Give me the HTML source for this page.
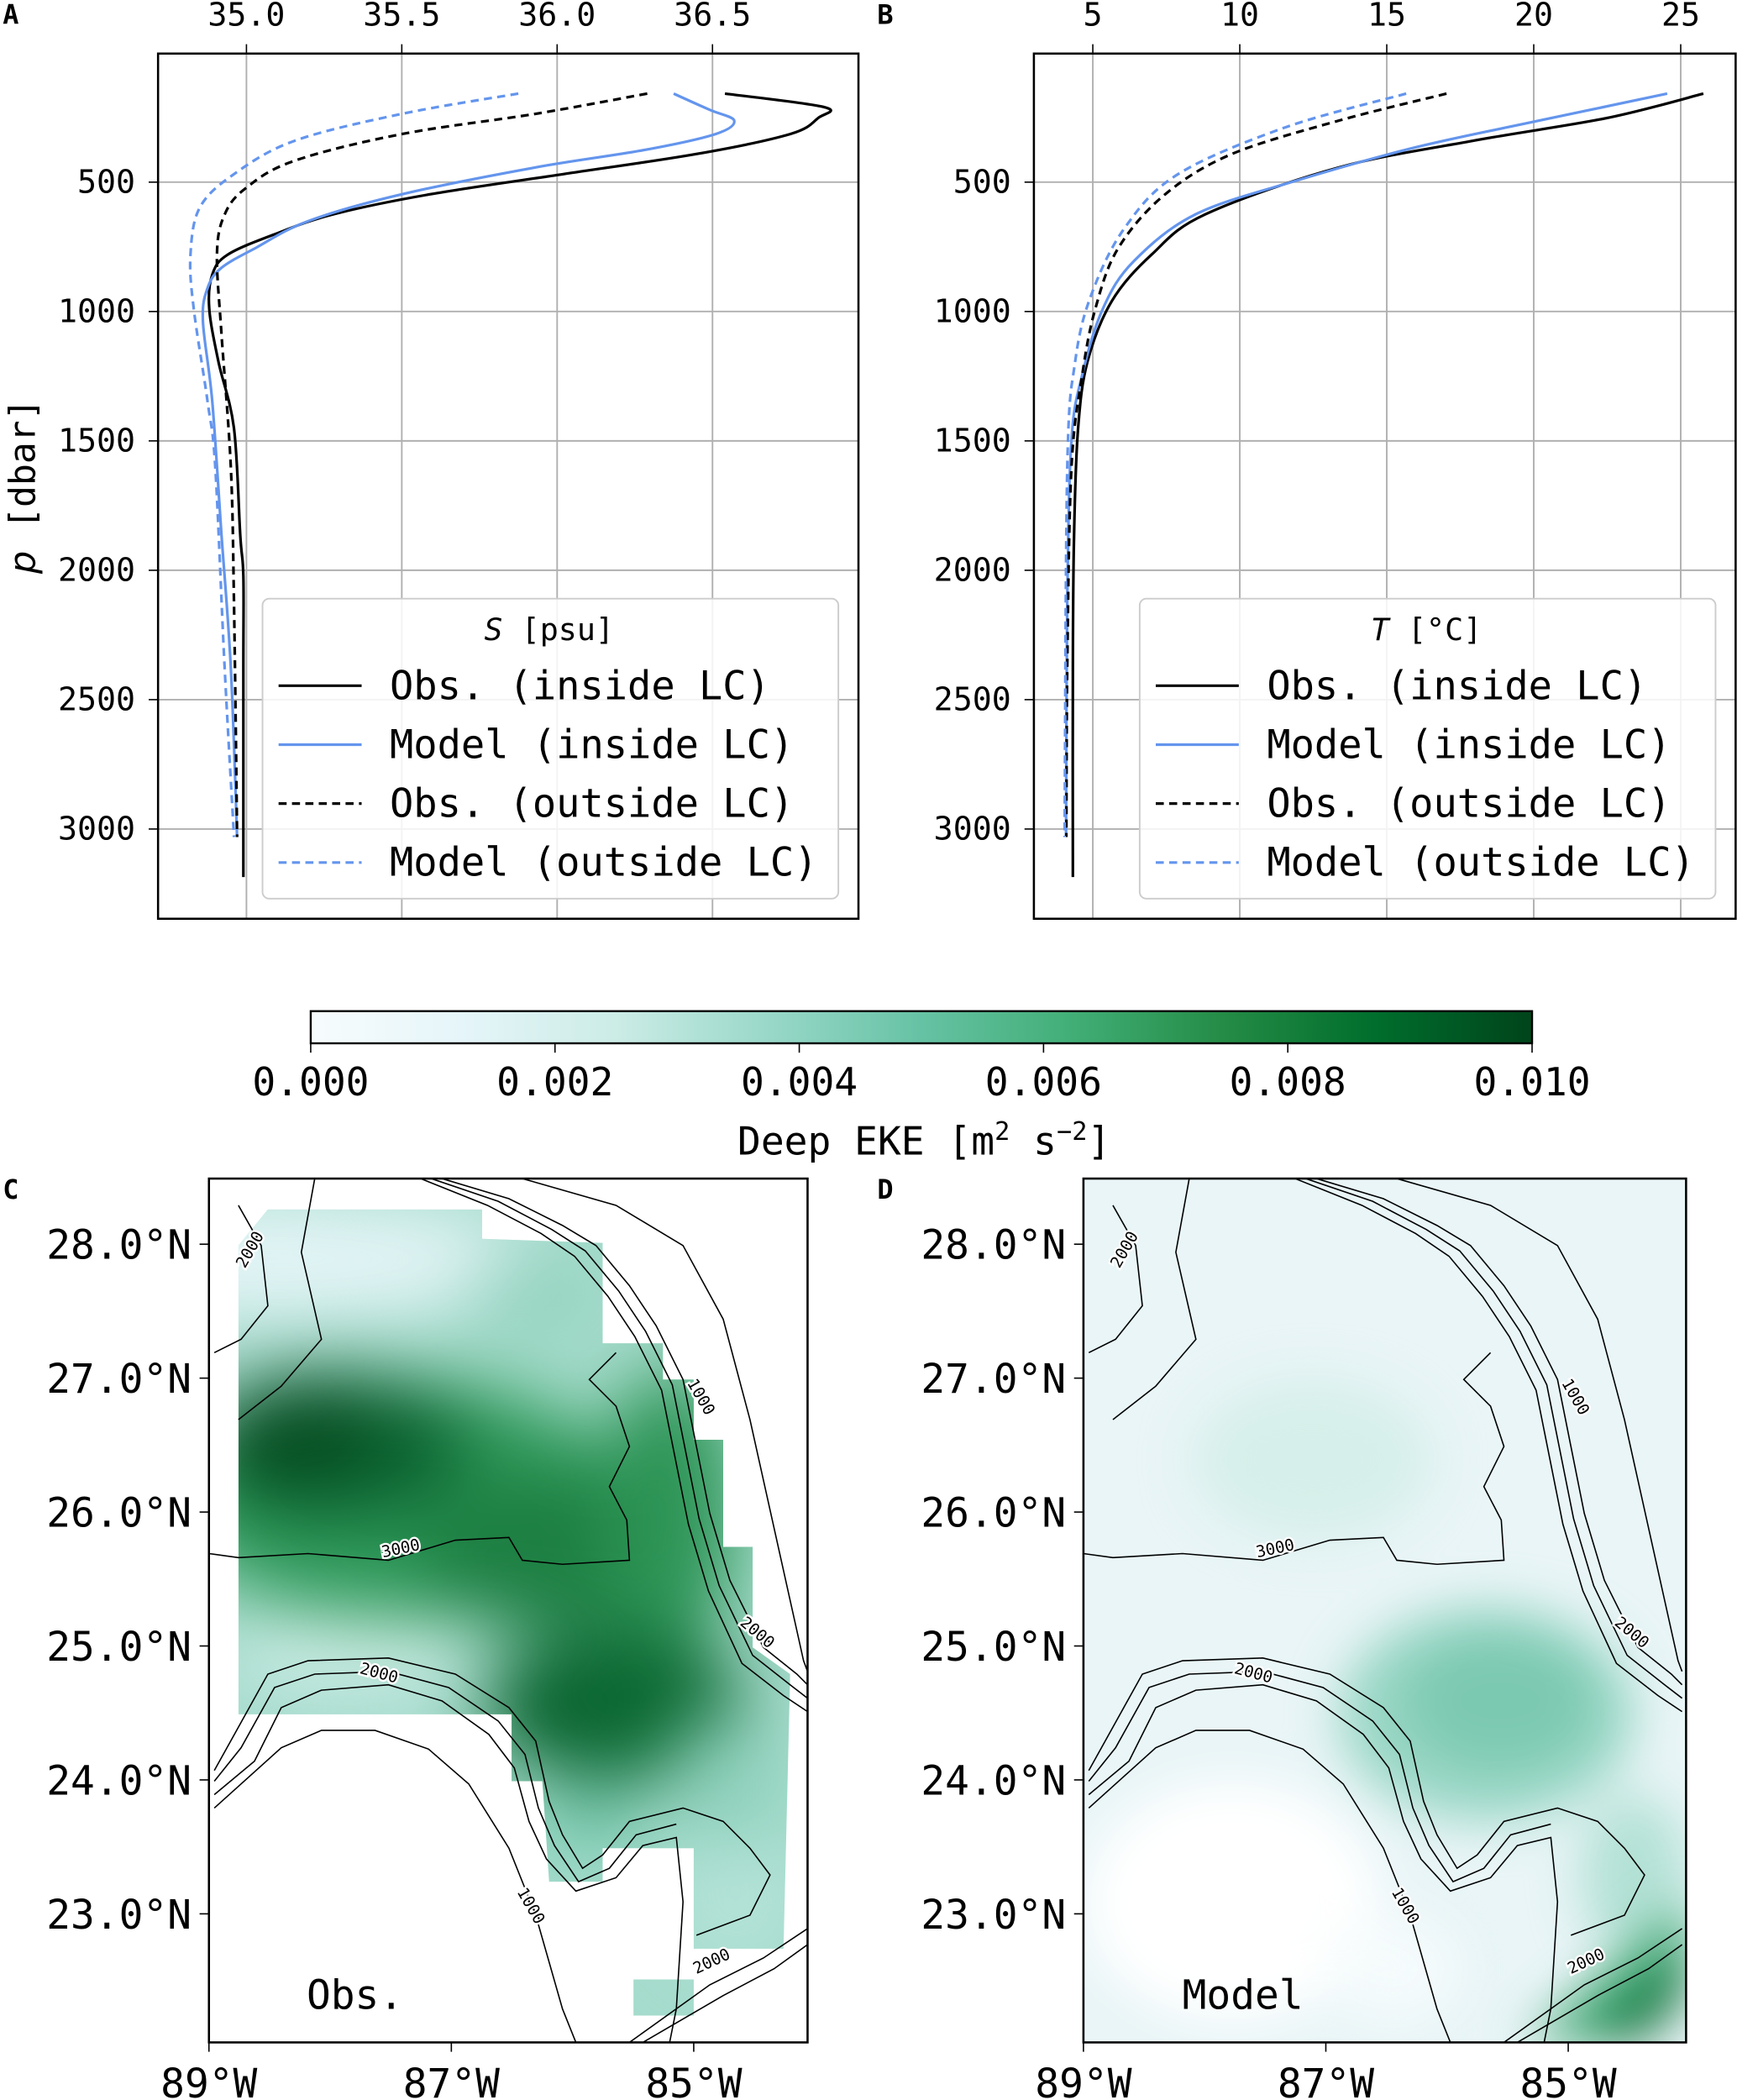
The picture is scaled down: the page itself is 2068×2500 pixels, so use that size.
<!DOCTYPE html>
<html><head><meta charset="utf-8"><style>
html,body{margin:0;padding:0;background:#fff}
svg{display:block}
.t{font-family:"DejaVu Sans Mono","Liberation Mono",monospace;fill:#000}
</style></head><body>
<svg id="fig" xmlns="http://www.w3.org/2000/svg" width="2068" height="2500" viewBox="0 0 1297 1568">
<defs>
<linearGradient id="bugn" x1="0" x2="1" y1="0" y2="0">
<stop offset="0" stop-color="#f7fcfd"/><stop offset="0.125" stop-color="#e5f5f9"/><stop offset="0.25" stop-color="#ccece6"/><stop offset="0.375" stop-color="#99d8c9"/><stop offset="0.5" stop-color="#66c2a4"/><stop offset="0.625" stop-color="#41ae76"/><stop offset="0.75" stop-color="#238b45"/><stop offset="0.875" stop-color="#006d2c"/><stop offset="1" stop-color="#00441b"/>
</linearGradient>
<filter id="blur" x="-100%" y="-100%" width="300%" height="300%" color-interpolation-filters="sRGB"><feGaussianBlur stdDeviation="26"/></filter>
<filter id="blur2" x="-100%" y="-100%" width="300%" height="300%" color-interpolation-filters="sRGB"><feGaussianBlur stdDeviation="18"/></filter>
<clipPath id="clipC"><polygon points="178,930 200,903 360,903 360,925 450,928 450,1003 495,1003 495,1030 518,1030 518,1075 540,1075 540,1155 562,1155 562,1230 590,1250 585,1455 518,1455 518,1380 450,1380 450,1405 410,1405 405,1330 382,1330 382,1280 178,1280"/><rect x="473" y="1478" width="45" height="27"/></clipPath>
<clipPath id="boxC"><rect x="156" y="880" width="447" height="645"/></clipPath>
<clipPath id="boxD"><rect x="809" y="880" width="450" height="645"/></clipPath>
</defs>
<g id="root"></g>
</svg>
<script>
// ---- profile data (pressure in dbar, salinity psu, temperature degC)
const pObsIn=[158,210,252,314,391,469,547,624,702,780,857,987,1194,1452,1866,2022,2384,3186];
const sObsIn=[36.54,36.86,36.84,36.75,36.45,36.02,35.59,35.28,35.09,34.94,34.89,34.88,34.91,34.96,34.98,34.99,34.99,34.99];
const pModIn=[158,220,262,314,376,443,547,650,754,831,909,1038,1349,1866,2384,3031];
const sModIn=[36.375,36.49,36.57,36.51,36.28,35.93,35.5,35.2,35.03,34.92,34.875,34.86,34.89,34.92,34.95,34.97];
const pObsOut=[158,236,314,417,521,624,780,1090,1608,2125,3031];
const sObsOut=[36.29,35.93,35.5,35.155,35.0,34.93,34.905,34.92,34.95,34.96,34.97];
const pModOut=[158,236,340,469,598,780,987,1349,1608,2384,3031];
const sModOut=[35.875,35.5,35.155,34.96,34.85,34.82,34.83,34.875,34.9,34.93,34.96];
const tpObsIn=[158,252,340,443,624,780,961,1194,1452,1866,2384,3186];
const tObsIn=[25.77,22.5,17.94,13.38,8.83,7.0,5.64,4.82,4.5,4.36,4.32,4.32];
const tpModIn=[158,262,365,495,624,805,987,1245,1504,2125,3031];
const tModIn=[24.54,20.2,16.0,11.9,8.5,6.4,5.35,4.64,4.27,4.13,4.09];
const tpObsOut=[158,262,391,547,754,987,1245,1608,2384,3031];
const tObsOut=[17.03,13.38,9.74,7.46,5.87,5.09,4.64,4.27,4.13,4.1];
const tpModOut=[158,288,469,676,935,1194,1608,3031];
const tModOut=[15.66,11.56,7.9,6.09,4.95,4.4,4.13,4.04];
const sTicks=[35.0,35.5,36.0,36.5];
const tTicks=[5,10,15,20,25];
const pTicks=[500,1000,1500,2000,2500,3000];
const cbTicks=[0,0.002,0.004,0.006,0.008,0.010];
const latTicks=[28,27,26,25,24,23];
const lonTicks=[89,87,85];

const NS="http://www.w3.org/2000/svg";
const root=document.getElementById('root');
function el(tag,attrs,parent){const e=document.createElementNS(NS,tag);for(const k in attrs)e.setAttribute(k,attrs[k]);(parent||root).appendChild(e);return e;}
function txt(x,y,s,size,anchor,parent,extra){const e=el('text',Object.assign({x:x,y:y,'font-size':size,'text-anchor':anchor||'middle',class:'t'},extra||{}),parent);e.textContent=s;return e;}
function smooth(pts){let d='M'+pts[0][0].toFixed(1)+','+pts[0][1].toFixed(1);
  for(let i=0;i<pts.length-1;i++){const p0=pts[Math.max(0,i-1)],p1=pts[i],p2=pts[i+1],p3=pts[Math.min(pts.length-1,i+2)];
    const c1=[p1[0]+(p2[0]-p0[0])/6,p1[1]+(p2[1]-p0[1])/6],c2=[p2[0]-(p3[0]-p1[0])/6,p2[1]-(p3[1]-p1[1])/6];
    d+='C'+c1[0].toFixed(1)+','+c1[1].toFixed(1)+' '+c2[0].toFixed(1)+','+c2[1].toFixed(1)+' '+p2[0].toFixed(1)+','+p2[1].toFixed(1);}
  return d;}

const yP=p=>136+(p-500)*96.6/500;
const xS=s=>184+(s-35)*232;
const xT=t=>816+(t-5)*21.95;

function panel(name,x0,x1,xf,ticks,fmt,series,legTitle,letter,lx){
  const g=el('g',{});
  
  
  ticks.forEach(v=>{const x=xf(v);
    const l=el('line',{x1:x,x2:x,y1:40,y2:686,stroke:'#b0b0b0','stroke-width':1.2},g);
    
    el('line',{x1:x,x2:x,y1:40,y2:33,stroke:'#000','stroke-width':1},g);
    const t=txt(x,19,fmt(v),24,'middle',g);
    });
  pTicks.forEach(v=>{const y=yP(v);
    el('line',{x1:x0,x2:x1,y1:y,y2:y,stroke:'#b0b0b0','stroke-width':1.2},g);
    el('line',{x1:x0,x2:x0-7,y1:y,y2:y,stroke:'#000','stroke-width':1},g);
    const t=txt(x0-17,y+8,String(v),24,'end',g);
    });
  series.forEach(s=>{
    const d=smooth(s.p.map((p,i)=>[xf(s.v[i]),yP(p)]));
    const path=el('path',{d:d,fill:'none',stroke:s.c,'stroke-width':2,'stroke-dasharray':s.dash?'6,4':'none'},g);
    
    
  });
  const box=el('rect',{x:x0,y:40,width:x1-x0,height:646,fill:'none',stroke:'#000','stroke-width':1.6},g);
  
  const lg=el('g',{},g);
  
  
  el('rect',{x:lx,y:447,width:430,height:224,rx:5,fill:'#fff','fill-opacity':0.85,stroke:'#ccc','stroke-width':1.2},lg);
  const tt=txt(lx+214,478,'',23,'middle',lg,{'font-family':'DejaVu Sans'});
  tt.innerHTML='<tspan font-style="italic">'+legTitle[0]+'</tspan> '+legTitle[1];
  
  const labs=['Obs. (inside LC)','Model (inside LC)','Obs. (outside LC)','Model (outside LC)'];
  labs.forEach((lab,i)=>{const y=512+i*44;const s=series[i];
    el('line',{x1:lx+12,x2:lx+74,y1:y,y2:y,stroke:s.c,'stroke-width':2,'stroke-dasharray':s.dash?'6,4':'none'},lg);
    const t=txt(lx+95,y+10,lab,29.5,'start',lg,{'xml:space':'preserve'});
    });
  const L=txt(0,18,letter,20,'start',g,{'font-family':'Liberation Sans','font-weight':'bold'});
  L.setAttribute('x',letter=='A'?2:655);
  
}
const blue='#6495ed';
panel('salinity-panel',118,641,xS,sTicks,v=>v.toFixed(1),[
 {p:pObsIn,v:sObsIn,c:'#000',dash:false,n:'obs-inside-line'},
 {p:pModIn,v:sModIn,c:blue,dash:false,n:'model-inside-line'},
 {p:pObsOut,v:sObsOut,c:'#000',dash:true,n:'obs-outside-line'},
 {p:pModOut,v:sModOut,c:blue,dash:true,n:'model-outside-line'}],['S','[psu]'],'A',196);
panel('temperature-panel',772,1296,xT,tTicks,v=>String(v),[
 {p:tpObsIn,v:tObsIn,c:'#000',dash:false,n:'obs-inside-line'},
 {p:tpModIn,v:tModIn,c:blue,dash:false,n:'model-inside-line'},
 {p:tpObsOut,v:tObsOut,c:'#000',dash:true,n:'obs-outside-line'},
 {p:tpModOut,v:tModOut,c:blue,dash:true,n:'model-outside-line'}],['T','[°C]'],'B',851);
const yt=txt(26,363,'',27,'middle',null,{transform:'rotate(-90 26 363)'});
yt.innerHTML='<tspan font-style="italic" font-family="DejaVu Sans">p</tspan> [dbar]';


// ---- colorbar
const cb=el('g',{});


el('rect',{x:232,y:755,width:912,height:24,fill:'url(#bugn)',stroke:'#000','stroke-width':1.5},cb);
const xC=v=>232+v/0.010*912;
cbTicks.forEach(v=>{const x=xC(v);el('line',{x1:x,x2:x,y1:779,y2:786,stroke:'#000'},cb);
  const t=txt(x,818,v.toFixed(3),29,'middle',cb);});
const cbt=txt(690,862,'',29,'middle',cb,{'xml:space':'preserve'});
cbt.innerHTML='Deep EKE [m<tspan dy="-11" font-size="19">2</tspan><tspan dy="11"> s</tspan><tspan dy="-11" font-size="19">−2</tspan><tspan dy="11">]</tspan>';


// ---- maps
const lonC=lo=>156+(89-lo)*90.5;
const latY=la=>929+(28-la)*100;
const contours=[
 {pts:[[390,880],[460,900],[510,930],[540,985],[560,1060],[580,1150],[600,1240],[603,1248]]},
 {pts:[[330,880],[380,895],[420,915],[445,930],[470,960],[490,990],[510,1030],[520,1080],[530,1130],[545,1180],[570,1230],[595,1250],[603,1258]]},
 {pts:[[322,880],[372,897],[412,918],[437,934],[462,964],[482,994],[502,1034],[512,1084],[522,1134],[537,1184],[562,1236],[590,1258],[603,1268]]},
 {pts:[[314,880],[364,900],[404,921],[429,938],[454,968],[474,998],[494,1038],[504,1088],[514,1138],[529,1188],[554,1242],[585,1266],[603,1278]]},
 {pts:[[156,1160],[178,1163],[230,1160],[290,1165],[340,1150],[380,1148],[390,1165],[420,1168],[470,1165],[468,1135],[455,1110],[470,1080],[460,1050],[440,1030],[460,1010]]},
 {pts:[[160,1322],[175,1295],[200,1250],[230,1240],[290,1238],[340,1250],[380,1275],[400,1300],[410,1345],[420,1370],[435,1395],[450,1385],[470,1360],[510,1350],[540,1360],[560,1380],[575,1400],[560,1430],[520,1445]]},
 {pts:[[160,1330],[180,1305],[205,1260],[235,1250],[290,1248],[335,1260],[372,1285],[392,1310],[402,1350],[414,1378],[432,1405],[455,1395],[475,1370],[505,1362]]},
 {pts:[[160,1340],[190,1315],[210,1275],[240,1262],[290,1258],[330,1270],[365,1295],[384,1320],[395,1360],[408,1388],[430,1412],[460,1402],[480,1378],[505,1372],[510,1420],[505,1500],[500,1525]]},
 {pts:[[160,1350],[210,1305],[240,1292],[280,1292],[320,1306],[350,1332],[380,1380],[400,1430],[420,1500],[430,1525]]},
 {pts:[[470,1525],[530,1482],[570,1462],[603,1440]]},
 {pts:[[480,1525],[540,1490],[578,1470],[603,1452]]},
 {pts:[[178,900],[195,930],[200,975],[180,1000],[160,1010]]},
 {pts:[[235,880],[225,935],[240,1000],[210,1035],[178,1060]]}
];
const clabels=[[190,935,'2000',-60],[520,1045,'1000',60],[300,1160,'3000',-12],[282,1253,'2000',15],[563,1222,'2000',40],[393,1425,'1000',60],[533,1468,'2000',-25]];
function map(name,dx,letter,lbl){
  const g=el('g',{});
  
  
  const h=el('g',{},g);
  
  
  if(letter=='C'){
    const c=el('g',{'clip-path':'url(#clipC)'},h);
    el('rect',{x:150,y:880,width:460,height:650,fill:'#a6dccd'},c);
    const b=el('g',{filter:'url(#blur)'},c);
    [[200,940,200,45,'#e3f4f6'],[400,965,50,25,'#8fd0bb'],[300,1120,170,90,'#2f9a5a'],[250,1080,100,55,'#0b6430'],[220,1070,60,40,'#064d22'],[420,1160,110,60,'#1d7f42'],[500,1130,50,110,'#2c9455'],[460,1275,100,55,'#0a6530'],[505,1290,50,40,'#0d6b33'],[260,1235,90,25,'#d4efea'],[540,1330,40,50,'#8ccfba'],[550,1420,45,45,'#b5e3d8'],[440,1360,40,20,'#5fbd9c']].forEach(e=>el('ellipse',{cx:e[0],cy:e[1],rx:e[2],ry:e[3],fill:e[4]},b));
  } else {
    const c=el('g',{'clip-path':'url(#boxD)'},h);
    el('rect',{x:809,y:880,width:450,height:645,fill:'#e9f5f7'},c);
    const b=el('g',{filter:'url(#blur2)'},c);
    [[980,1090,90,60,'#d6efea'],[1110,1280,110,80,'#98d6c4'],[1120,1270,70,50,'#7cc9b1'],[1220,1400,40,60,'#b3e1d5'],[920,1420,110,90,'#ffffff'],[1040,1470,50,40,'#f5fbfc']].forEach(e=>el('ellipse',{cx:e[0],cy:e[1],rx:e[2],ry:e[3],fill:e[4]},b));
    const st=el('g',{filter:'url(#blur2)'},c);
    el('polygon',{points:'1140,1525 1259,1420 1259,1470 1200,1525','fill':'#3aa56f'},st);
    el('polygon',{points:'1190,1525 1259,1460 1259,1490 1225,1525','fill':'#0b6a32'},st);
  }
  const cg=el('g',{'clip-path':letter=='C'?'url(#boxC)':'url(#boxD)'},g);
  contours.forEach(c=>{const p=el('polyline',{points:c.pts.map(q=>(q[0]+dx)+','+q[1]).join(' '),fill:'none',stroke:'#000','stroke-width':1},cg);
    });
  clabels.forEach(l=>{const t=txt(l[0]+dx,l[1],l[2],12,'middle',cg,{transform:'rotate('+l[3]+' '+(l[0]+dx)+' '+l[1]+')',stroke:'#fff','stroke-width':3,'paint-order':'stroke'});
    });
  const fr=el('rect',{x:156+dx,y:880,width:447+(dx?3:0),height:645,fill:'none',stroke:'#000','stroke-width':1.6},g);
  
  latTicks.forEach(la=>{const y=latY(la);el('line',{x1:156+dx,x2:149+dx,y1:y,y2:y,stroke:'#000'},g);
    const t=txt(143+dx,y+11,la.toFixed(1)+'°N',30,'end',g);});
  lonTicks.forEach(lo=>{const x=lonC(lo)+dx;el('line',{x1:x,x2:x,y1:1525,y2:1532,stroke:'#000'},g);
    const t=txt(x,1566,lo+'°W',30,'middle',g);});
  const L=txt(2+dx,895,letter,20,'start',g,{'font-family':'Liberation Sans','font-weight':'bold'});
  
  const ml=txt((letter=='C'?265:275)+dx,1500,lbl,30,'middle',g);
  
}
map('obs-eke-map',0,'C','Obs.');
map('model-eke-map',653,'D','Model');
</script>
</body></html>
